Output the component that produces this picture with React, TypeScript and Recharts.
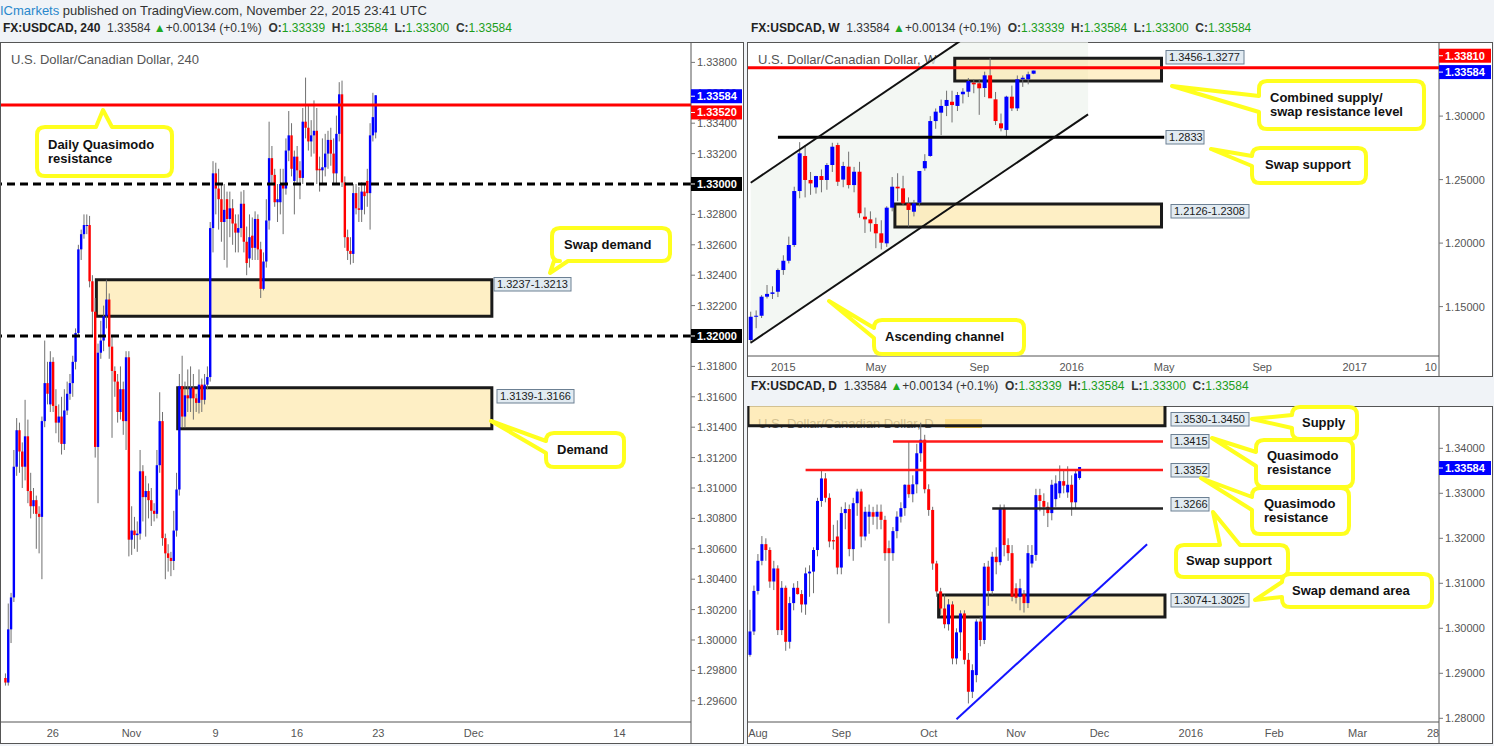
import React from 'react'
import { ComposedChart, Bar, Line, Area, XAxis, YAxis, ReferenceLine, ReferenceArea } from 'recharts'

// ---------- 4h panel data: [open, high, low, close] ----------
const h4Candles = [
  [1.2975, 1.2978, 1.2970, 1.2972], [1.2972, 1.3024, 1.2970, 1.3007], [1.3007, 1.3031, 1.2998, 1.3028],
  [1.3028, 1.3125, 1.3025, 1.3114], [1.3114, 1.3146, 1.3108, 1.3138], [1.3138, 1.3143, 1.3110, 1.3124],
  [1.3124, 1.3130, 1.3100, 1.3114], [1.3114, 1.3158, 1.3105, 1.3134], [1.3134, 1.3145, 1.3090, 1.3098],
  [1.3098, 1.3110, 1.3080, 1.3088], [1.3088, 1.3100, 1.3083, 1.3092], [1.3092, 1.3095, 1.3060, 1.3083],
  [1.3083, 1.3088, 1.3057, 1.3081], [1.3081, 1.3147, 1.3040, 1.3144], [1.3144, 1.3197, 1.3140, 1.3169],
  [1.3169, 1.3183, 1.3155, 1.3162], [1.3155, 1.3190, 1.3150, 1.3183], [1.3183, 1.3186, 1.3150, 1.3154],
  [1.3154, 1.3165, 1.3136, 1.3143], [1.3143, 1.3155, 1.3130, 1.3147], [1.3147, 1.3160, 1.3122, 1.3129],
  [1.3129, 1.3165, 1.3125, 1.3151], [1.3151, 1.3170, 1.3148, 1.3162], [1.3162, 1.3175, 1.3158, 1.3169],
  [1.3169, 1.3187, 1.3160, 1.3183], [1.3183, 1.3205, 1.3178, 1.3202], [1.3202, 1.3260, 1.3200, 1.3257],
  [1.3257, 1.3270, 1.3250, 1.3267], [1.3267, 1.3280, 1.3264, 1.3273], [1.3273, 1.3280, 1.3267, 1.3273],
  [1.3273, 1.3279, 1.3232, 1.3236], [1.3236, 1.3240, 1.3200, 1.3216], [1.3216, 1.3225, 1.3120, 1.3127],
  [1.3127, 1.3195, 1.3090, 1.3189], [1.3189, 1.3210, 1.3185, 1.3197], [1.3197, 1.3220, 1.3190, 1.3213],
  [1.3213, 1.3237, 1.3205, 1.3224], [1.3224, 1.3228, 1.3185, 1.3193], [1.3193, 1.3200, 1.3133, 1.3177],
  [1.3177, 1.3180, 1.3160, 1.3170], [1.3170, 1.3175, 1.3143, 1.3150], [1.3150, 1.3180, 1.3145, 1.3165],
  [1.3165, 1.3170, 1.3135, 1.3144], [1.3144, 1.3190, 1.3125, 1.3186], [1.3186, 1.3190, 1.3055, 1.3066],
  [1.3066, 1.3088, 1.3056, 1.3072], [1.3072, 1.3081, 1.3060, 1.3069], [1.3069, 1.3078, 1.3058, 1.3070],
  [1.3070, 1.3125, 1.3066, 1.3111], [1.3111, 1.3115, 1.3078, 1.3094], [1.3094, 1.3108, 1.3068, 1.3098],
  [1.3098, 1.3103, 1.3080, 1.3092], [1.3092, 1.3100, 1.3075, 1.3085], [1.3085, 1.3090, 1.3078, 1.3083],
  [1.3083, 1.3125, 1.3080, 1.3115], [1.3115, 1.3163, 1.3110, 1.3144], [1.3144, 1.3150, 1.3062, 1.3067],
  [1.3067, 1.3070, 1.3040, 1.3057], [1.3057, 1.3063, 1.3045, 1.3054], [1.3054, 1.3058, 1.3042, 1.3052],
  [1.3052, 1.3085, 1.3046, 1.3072], [1.3072, 1.3110, 1.3068, 1.3099], [1.3099, 1.3175, 1.3095, 1.3167],
  [1.3167, 1.3187, 1.3140, 1.3147], [1.3147, 1.3170, 1.3140, 1.3161], [1.3161, 1.3178, 1.3150, 1.3159],
  [1.3159, 1.3180, 1.3150, 1.3166], [1.3166, 1.3175, 1.3145, 1.3159], [1.3159, 1.3162, 1.3150, 1.3156],
  [1.3156, 1.3178, 1.3149, 1.3168], [1.3168, 1.3172, 1.3150, 1.3158], [1.3158, 1.3175, 1.3155, 1.3168],
  [1.3168, 1.3180, 1.3165, 1.3173], [1.3173, 1.3275, 1.3170, 1.3271], [1.3271, 1.3315, 1.3255, 1.3307],
  [1.3307, 1.3314, 1.3280, 1.3297], [1.3297, 1.3310, 1.3270, 1.3290], [1.3290, 1.3300, 1.3262, 1.3275],
  [1.3275, 1.3300, 1.3250, 1.3283], [1.3290, 1.3295, 1.3245, 1.3277], [1.3277, 1.3295, 1.3265, 1.3284],
  [1.3284, 1.3290, 1.3260, 1.3274], [1.3274, 1.3280, 1.3255, 1.3268], [1.3268, 1.3280, 1.3255, 1.3271],
  [1.3271, 1.3295, 1.3265, 1.3287], [1.3287, 1.3296, 1.3255, 1.3262], [1.3262, 1.3272, 1.3240, 1.3248],
  [1.3251, 1.3280, 1.3245, 1.3265], [1.3266, 1.3278, 1.3250, 1.3258], [1.3258, 1.3282, 1.3250, 1.3277],
  [1.3277, 1.3280, 1.3250, 1.3257], [1.3257, 1.3262, 1.3225, 1.3231], [1.3231, 1.3255, 1.3230, 1.3249],
  [1.3249, 1.3290, 1.3245, 1.3276], [1.3276, 1.3341, 1.3270, 1.3317], [1.3317, 1.3325, 1.3300, 1.3306],
  [1.3306, 1.3310, 1.3285, 1.3288], [1.3288, 1.3300, 1.3275, 1.3290], [1.3288, 1.3310, 1.3280, 1.3300],
  [1.3300, 1.3310, 1.3267, 1.3297], [1.3297, 1.3330, 1.3293, 1.3322], [1.3322, 1.3348, 1.3315, 1.3332],
  [1.3332, 1.3340, 1.3305, 1.3310], [1.3302, 1.3322, 1.3280, 1.3318], [1.3318, 1.3325, 1.3300, 1.3309],
  [1.3309, 1.3315, 1.3290, 1.3304], [1.3304, 1.3350, 1.3300, 1.3341], [1.3341, 1.3370, 1.3330, 1.3337],
  [1.3337, 1.3352, 1.3322, 1.3328], [1.3328, 1.3342, 1.3318, 1.3332], [1.3332, 1.3355, 1.3320, 1.3335],
  [1.3335, 1.3350, 1.3300, 1.3309], [1.3310, 1.3318, 1.3295, 1.3309], [1.3309, 1.3330, 1.3300, 1.3311],
  [1.3311, 1.3333, 1.3305, 1.3320], [1.3320, 1.3335, 1.3310, 1.3329], [1.3329, 1.3337, 1.3312, 1.3320],
  [1.3320, 1.3330, 1.3300, 1.3307], [1.3307, 1.3345, 1.3300, 1.3333], [1.3333, 1.3367, 1.3328, 1.3359],
  [1.3359, 1.3368, 1.3298, 1.3301], [1.3301, 1.3305, 1.3258, 1.3265], [1.3265, 1.3270, 1.3250, 1.3256],
  [1.3256, 1.3265, 1.3247, 1.3254], [1.3254, 1.3300, 1.3248, 1.3294], [1.3294, 1.3300, 1.3280, 1.3284],
  [1.3284, 1.3298, 1.3275, 1.3283], [1.3283, 1.3301, 1.3275, 1.3295], [1.3295, 1.3300, 1.3280, 1.3292],
  [1.3302, 1.3310, 1.3285, 1.3294], [1.3294, 1.3340, 1.3270, 1.3332], [1.3332, 1.3360, 1.3328, 1.3344],
  [1.33339, 1.33584, 1.33300, 1.33584],
]
const h4TickSlots = [18, 46, 76, 105, 134, 168, 220]
const h4TickLabels = ['26', 'Nov', '9', '16', '23', 'Dec', '14']
const h4PriceTicks = [1.296, 1.298, 1.300, 1.302, 1.304, 1.306, 1.308, 1.310, 1.312, 1.314, 1.316, 1.318,
  1.322, 1.324, 1.326, 1.328, 1.332, 1.334, 1.336, 1.338]
const h4Quasimodo = 1.3352
const h4RoundUpper = 1.33
const h4RoundLower = 1.32
const h4SwapDemand = [1.3213, 1.3237]
const h4Demand = [1.3139, 1.3166]
const lastPrice = 1.33584

// ---------- weekly panel data ----------
const wkCandles = [
  [1.1237, 1.1460, 1.1210, 1.1420], [1.1420, 1.1470, 1.1330, 1.1428], [1.1428, 1.1590, 1.1410, 1.1578],
  [1.1578, 1.1670, 1.1564, 1.1600], [1.1600, 1.1660, 1.1560, 1.1612], [1.1617, 1.1800, 1.1575, 1.1788],
  [1.1788, 1.1904, 1.1750, 1.1861], [1.1861, 1.2051, 1.1840, 1.1985], [1.1985, 1.2444, 1.1970, 1.2410],
  [1.2410, 1.2795, 1.2353, 1.2707], [1.2686, 1.2772, 1.2360, 1.2497], [1.2497, 1.2560, 1.2380, 1.2470],
  [1.2439, 1.2530, 1.2390, 1.2528], [1.2528, 1.2580, 1.2400, 1.2497], [1.2497, 1.2630, 1.2420, 1.2615],
  [1.2615, 1.2790, 1.2560, 1.2759], [1.2772, 1.2790, 1.2450, 1.2483], [1.2500, 1.2640, 1.2440, 1.2607],
  [1.2602, 1.2720, 1.2430, 1.2457], [1.2457, 1.2600, 1.2400, 1.2562], [1.2562, 1.2640, 1.2200, 1.2235],
  [1.2208, 1.2280, 1.2080, 1.2187], [1.2187, 1.2250, 1.2090, 1.2156], [1.2150, 1.2200, 1.1960, 1.2077],
  [1.2077, 1.2180, 1.1950, 1.2003], [1.1998, 1.2290, 1.1970, 1.2279], [1.2279, 1.2520, 1.2250, 1.2444],
  [1.2444, 1.2550, 1.2330, 1.2431], [1.2431, 1.2530, 1.2300, 1.2313], [1.2313, 1.2360, 1.2130, 1.2261],
  [1.2247, 1.2340, 1.2210, 1.2313], [1.2318, 1.2560, 1.2290, 1.2568], [1.2589, 1.2700, 1.2570, 1.2646],
  [1.2686, 1.3000, 1.2680, 1.2961], [1.2961, 1.3060, 1.2900, 1.3035], [1.3027, 1.3130, 1.2850, 1.3080],
  [1.3080, 1.3200, 1.3000, 1.3127], [1.3113, 1.3200, 1.2950, 1.3087], [1.3080, 1.3190, 1.3040, 1.3166],
  [1.3172, 1.3220, 1.3100, 1.3192], [1.3192, 1.3300, 1.3150, 1.3276], [1.3263, 1.3290, 1.3180, 1.3250],
  [1.3258, 1.3290, 1.3010, 1.3219], [1.3221, 1.3350, 1.3150, 1.3321], [1.3321, 1.3457, 1.3200, 1.3140],
  [1.3132, 1.3190, 1.2930, 1.2961], [1.2943, 1.3020, 1.2880, 1.2904], [1.2891, 1.3160, 1.2833, 1.3153],
  [1.3153, 1.3240, 1.3040, 1.3061], [1.3061, 1.3320, 1.3040, 1.3290], [1.3290, 1.3320, 1.3230, 1.3302],
  [1.3290, 1.3350, 1.3250, 1.3329], [1.33339, 1.33584, 1.33300, 1.33584],
]
const wkTickSlots = [6, 23, 42, 59, 76, 94, 111, 125]
const wkTickLabels = ['2015', 'May', 'Sep', '2016', 'May', 'Sep', '2017', '10']
const wkPriceTicks = [1.15, 1.2, 1.25, 1.3]
const wkResistance = 1.3381
const wkSupply = [1.3277, 1.3456]
const wkDemand = [1.2126, 1.2308]
const wkSwapSupport = 1.2833
const wkChannelSlots = [0, 62]
const wkChannelUpper = [1.2475, 1.4273]
const wkChannelLower = [1.1215, 1.3013]

// ---------- daily panel data ----------
const dCandles = [
  [1.2941, 1.3041, 1.2937, 1.2993], [1.2993, 1.3095, 1.2985, 1.3083], [1.3083, 1.3165, 1.3075, 1.3150],
  [1.3150, 1.3205, 1.3140, 1.3187], [1.3187, 1.3200, 1.3150, 1.3174], [1.3174, 1.3180, 1.3090, 1.3104],
  [1.3104, 1.3150, 1.3085, 1.3133], [1.3133, 1.3140, 1.2985, 1.2996], [1.2996, 1.3105, 1.2985, 1.3090],
  [1.3090, 1.3095, 1.2950, 1.2970], [1.2970, 1.3070, 1.2955, 1.3056], [1.3056, 1.3100, 1.3040, 1.3090],
  [1.3090, 1.3105, 1.3075, 1.3076], [1.3076, 1.3085, 1.3035, 1.3053], [1.3053, 1.3135, 1.3030, 1.3122],
  [1.3122, 1.3140, 1.3070, 1.3126], [1.3126, 1.3180, 1.3078, 1.3174], [1.3174, 1.3290, 1.3160, 1.3283],
  [1.3283, 1.3352, 1.3270, 1.3333], [1.3333, 1.3345, 1.3280, 1.3290], [1.3290, 1.3300, 1.3180, 1.3193],
  [1.3196, 1.3230, 1.3175, 1.3193], [1.3204, 1.3240, 1.3120, 1.3135], [1.3135, 1.3270, 1.3120, 1.3256],
  [1.3256, 1.3280, 1.3220, 1.3265], [1.3265, 1.3275, 1.3160, 1.3176], [1.3176, 1.3290, 1.3150, 1.3278],
  [1.3278, 1.3310, 1.3250, 1.3304], [1.3304, 1.3310, 1.3180, 1.3204], [1.3204, 1.3270, 1.3195, 1.3259],
  [1.3248, 1.3275, 1.3210, 1.3259], [1.3258, 1.3270, 1.3230, 1.3248], [1.3248, 1.3275, 1.3220, 1.3259],
  [1.3259, 1.3275, 1.3220, 1.3241], [1.3241, 1.3250, 1.3150, 1.3167], [1.3178, 1.3195, 1.3011, 1.3167],
  [1.3167, 1.3225, 1.3150, 1.3216], [1.3216, 1.3260, 1.3200, 1.3248], [1.3248, 1.3280, 1.3235, 1.3267],
  [1.3267, 1.3320, 1.3250, 1.3319], [1.3319, 1.3415, 1.3290, 1.3298], [1.3298, 1.3340, 1.3280, 1.3320],
  [1.3320, 1.3410, 1.3300, 1.3389], [1.3389, 1.3457, 1.3370, 1.3419], [1.3419, 1.3430, 1.3300, 1.3309],
  [1.3309, 1.3320, 1.3250, 1.3263], [1.3263, 1.3270, 1.3130, 1.3144], [1.3144, 1.3150, 1.3070, 1.3082],
  [1.3082, 1.3090, 1.3030, 1.3044], [1.3044, 1.3075, 1.3000, 1.3009], [1.3009, 1.3065, 1.2995, 1.3053],
  [1.3053, 1.3060, 1.2920, 1.2933], [1.2933, 1.3000, 1.2920, 1.2991], [1.2991, 1.3040, 1.2950, 1.3033],
  [1.3033, 1.3040, 1.2920, 1.2930], [1.2930, 1.2945, 1.2833, 1.2859], [1.2859, 1.2920, 1.2845, 1.2907],
  [1.2896, 1.3020, 1.2880, 1.3015], [1.3015, 1.3025, 1.2960, 1.2974], [1.2974, 1.3145, 1.2965, 1.3137],
  [1.3137, 1.3150, 1.3050, 1.3083], [1.3083, 1.3170, 1.3075, 1.3159], [1.3159, 1.3180, 1.3120, 1.3147],
  [1.3147, 1.3275, 1.3140, 1.3265], [1.3265, 1.3275, 1.3160, 1.3185], [1.3185, 1.3200, 1.3150, 1.3167],
  [1.3167, 1.3185, 1.3060, 1.3070], [1.3089, 1.3100, 1.3055, 1.3068], [1.3070, 1.3110, 1.3040, 1.3089],
  [1.3076, 1.3085, 1.3035, 1.3056], [1.3056, 1.3185, 1.3045, 1.3167], [1.3144, 1.3185, 1.3135, 1.3163],
  [1.3163, 1.3310, 1.3150, 1.3296], [1.3296, 1.3310, 1.3260, 1.3283], [1.3283, 1.3300, 1.3250, 1.3270],
  [1.3270, 1.3280, 1.3225, 1.3256], [1.3256, 1.3330, 1.3240, 1.3319], [1.3287, 1.3340, 1.3270, 1.3322],
  [1.3300, 1.3362, 1.3290, 1.3327], [1.3327, 1.3350, 1.3300, 1.3317], [1.3302, 1.3360, 1.3290, 1.3319],
  [1.3319, 1.3340, 1.3250, 1.3280], [1.3280, 1.3350, 1.3265, 1.3344], [1.33339, 1.33584, 1.33300, 1.33584],
]
const dTickSlots = [2, 23, 45, 67, 88, 111, 132, 153, 172]
const dTickLabels = ['Aug', 'Sep', 'Oct', 'Nov', 'Dec', '2016', 'Feb', 'Mar', '28']
const dPriceTicks = [1.28, 1.29, 1.30, 1.31, 1.32, 1.33, 1.34]
const dSupply = [1.345, 1.353]
const dSwapDemand = [1.3025, 1.3074]
const dQuasimodoUpper = 1.3415
const dQuasimodoLower = 1.3352
const dSwapSupport = 1.3266
const dTrendSlots = [52, 100]
const dTrendValues = [1.2798, 1.3187]

const FONT = '"Liberation Sans", Arial, sans-serif'
const ZONE_FILL = '#fde6a6'

function buildRows(candles: number[][], offset: number, slots: number) {
  const rows: any[] = []
  for (let i = 0; i < slots; i++) {
    const c = candles[i - offset]
    rows.push(c ? { i, o: c[0], h: c[1], l: c[2], c: c[3] } : { i })
  }
  return rows
}

const candleRange = (d: any) => (d.h == null ? null : [d.l, d.h])

const makeCandle = (bodyW: number) => (props: any) => {
  const { x, y, width, height, payload } = props
  if (!payload || payload.h == null || !isFinite(y)) return <g />
  const { o, h, l, c } = payload
  const span = h - l
  const toY = (v: number) => (span > 0 ? y + ((h - v) / span) * height : y)
  const cx = x + width / 2
  const top = toY(Math.max(o, c))
  const bh = Math.max(1, toY(Math.min(o, c)) - top)
  return (
    <g>
      <line x1={cx} x2={cx} y1={y} y2={y + height} stroke="#707070" strokeWidth={1} />
      <rect x={cx - bodyW / 2} y={top} width={bodyW} height={bh} fill={c >= o ? '#0000ff' : '#ff0000'} />
    </g>
  )
}

type Tag = { v: number; color: string; dy: number }

const makeYTick = (axisW: number, tags: Tag[]) => (props: any) => {
  const { x, y, payload } = props
  const v = payload.value as number
  const tag = tags.find((t) => Math.abs(t.v - v) < 1e-7)
  if (tag) {
    const cy = y + tag.dy
    return (
      <g>
        <rect x={x} y={cy - 7} width={axisW - 1} height={14} fill={tag.color} />
        <line x1={x} x2={x + 4} y1={cy} y2={cy} stroke="#fff" />
        <text x={x + 6} y={cy + 4} fill="#fff" fontSize={11} fontWeight="bold" fontFamily={FONT}>{v.toFixed(5)}</text>
      </g>
    )
  }
  return (
    <g>
      <line x1={x} x2={x + 4} y1={y} y2={y} stroke="#777" />
      <text x={x + 6} y={y + 4} fill="#555" fontSize={11} fontFamily={FONT}>{v.toFixed(5)}</text>
    </g>
  )
}

const makeXTick = (slots: number[], labels: string[]) => (props: any) => {
  const { x, y, payload } = props
  const k = slots.indexOf(payload.value)
  if (k < 0) return <g />
  return (
    <text x={x} y={y + 15} textAnchor="middle" fill="#555" fontSize={11} fontFamily={FONT}>{labels[k]}</text>
  )
}

function axes(slots: number[], labels: string[], xH: number, yW: number, domain: number[], ticks: number[], tags: Tag[]) {
  return [
    <XAxis key="x" dataKey="i" type="category" interval={0} tick={makeXTick(slots, labels)} tickLine={false}
      tickSize={0} tickMargin={0} height={xH} axisLine={{ stroke: '#555' }} />,
    <YAxis key="y" orientation="right" type="number" domain={domain} allowDataOverflow
      ticks={[...ticks, ...tags.map((t) => t.v)]} interval={0} tick={makeYTick(yW, tags)} tickLine={false}
      tickSize={0} tickMargin={0} width={yW} axisLine={{ stroke: '#555' }} />,
  ]
}

function H4Chart() {
  const rows = buildRows(h4Candles, 1, 246)
  const tags: Tag[] = [
    { v: h4RoundUpper, color: '#000', dy: 0 },
    { v: h4RoundLower, color: '#000', dy: 0 },
    { v: h4Quasimodo, color: '#ff0000', dy: 7.5 },
    { v: lastPrice, color: '#0000ff', dy: 1 },
  ]
  return (
    <ComposedChart width={742} height={701} data={rows} margin={{ top: 0, right: 0, bottom: 0, left: 0 }} barCategoryGap="5%">
      {axes(h4TickSlots, h4TickLabels, 21, 52, [1.294605, 1.339342], h4PriceTicks, tags)}
      <ReferenceLine y={h4Quasimodo} stroke="#ff0000" strokeWidth={3} />
      <ReferenceLine y={h4RoundUpper} stroke="#000" strokeWidth={3} strokeDasharray="8 5" />
      <ReferenceLine y={h4RoundLower} stroke="#000" strokeWidth={3} strokeDasharray="8 5" />
      <ReferenceArea x1={34} x2={174} y1={h4SwapDemand[0]} y2={h4SwapDemand[1]} fill={ZONE_FILL} fillOpacity={0.65}
        stroke="#1a1a1a" strokeWidth={3} ifOverflow="hidden" />
      <ReferenceArea x1={63} x2={174} y1={h4Demand[0]} y2={h4Demand[1]} fill={ZONE_FILL} fillOpacity={0.65}
        stroke="#1a1a1a" strokeWidth={3} ifOverflow="hidden" />
      <Bar dataKey={candleRange} shape={makeCandle(2.4)} isAnimationActive={false} />
    </ComposedChart>
  )
}

function WeeklyChart() {
  const rows = buildRows(wkCandles, 0, 127)
  wkChannelSlots.forEach((s, k) => {
    rows[s].chUp = wkChannelUpper[k]
    rows[s].chLo = wkChannelLower[k]
  })
  const tags: Tag[] = [
    { v: wkResistance, color: '#ff0000', dy: -12 },
    { v: lastPrice, color: '#0000ff', dy: 1.5 },
  ]
  return (
    <ComposedChart width={744} height={334} data={rows} margin={{ top: 0, right: 0, bottom: 0, left: 0 }} barCategoryGap="13%">
      {axes(wkTickSlots, wkTickLabels, 20, 53, [1.111102, 1.358346], wkPriceTicks, tags)}
      <Area dataKey={(d: any) => (d.chLo == null ? null : [d.chLo, d.chUp])} type="linear" connectNulls
        fill="#eef3ee" fillOpacity={0.7} stroke="none" dot={false} activeDot={false} isAnimationActive={false} />
      <ReferenceLine y={wkResistance} stroke="#ff0000" strokeWidth={3} />
      <ReferenceArea x1={38} x2={75} y1={wkSupply[0]} y2={wkSupply[1]} fill={ZONE_FILL} fillOpacity={0.6}
        stroke="#1a1a1a" strokeWidth={3} ifOverflow="hidden" />
      <ReferenceArea x1={27} x2={75} y1={wkDemand[0]} y2={wkDemand[1]} fill={ZONE_FILL} fillOpacity={0.65}
        stroke="#1a1a1a" strokeWidth={3} ifOverflow="hidden" />
      <ReferenceLine segment={[{ x: 5, y: wkSwapSupport }, { x: 76, y: wkSwapSupport }]} stroke="#000" strokeWidth={3} />
      <Line dataKey="chUp" stroke="#111" strokeWidth={2} dot={false} activeDot={false} connectNulls isAnimationActive={false} />
      <Line dataKey="chLo" stroke="#111" strokeWidth={2} dot={false} activeDot={false} connectNulls isAnimationActive={false} />
      <Bar dataKey={candleRange} shape={makeCandle(4)} isAnimationActive={false} />
    </ComposedChart>
  )
}

function DailyChart() {
  const rows = buildRows(dCandles, 0, 174)
  dTrendSlots.forEach((s, k) => {
    rows[s].trend = dTrendValues[k]
  })
  const tags: Tag[] = [{ v: lastPrice, color: '#0000ff', dy: 1 }]
  return (
    <ComposedChart width={744} height={337} data={rows} margin={{ top: 0, right: 0, bottom: 0, left: 0 }} barCategoryGap="12%">
      {axes(dTickSlots, dTickLabels, 21, 53, [1.279178, 1.3494], dPriceTicks, tags)}
      <ReferenceArea x1={0} x2={104} y1={dSupply[0]} y2={dSupply[1]} fill={ZONE_FILL} fillOpacity={0.75}
        stroke="#1a1a1a" strokeWidth={3} ifOverflow="hidden" />
      <ReferenceArea x1={48} x2={104} y1={dSwapDemand[0]} y2={dSwapDemand[1]} fill={ZONE_FILL} fillOpacity={0.65}
        stroke="#1a1a1a" strokeWidth={3} ifOverflow="hidden" />
      <ReferenceLine segment={[{ x: 36, y: dQuasimodoUpper }, { x: 104, y: dQuasimodoUpper }]} stroke="#ff1a1a" strokeWidth={2.5} />
      <ReferenceLine segment={[{ x: 14, y: dQuasimodoLower }, { x: 104, y: dQuasimodoLower }]} stroke="#ff1a1a" strokeWidth={2.5} />
      <ReferenceLine segment={[{ x: 61, y: dSwapSupport }, { x: 104, y: dSwapSupport }]} stroke="#222" strokeWidth={2.5} />
      <Line dataKey="trend" stroke="#1414ff" strokeWidth={2} dot={false} activeDot={false} connectNulls isAnimationActive={false} />
      <Bar dataKey={candleRange} shape={makeCandle(3)} isAnimationActive={false} />
    </ComposedChart>
  )
}

type Bub = { x: number; y: number; w: number; h: number; side: string; b1: number; b2: number; px: number; py: number; tx: number; lines: string[]; base: number[] }

const bubbles: Bub[] = [
  { x: 37, y: 127, w: 135, h: 49, side: 'top', b1: 96, b2: 112, px: 103, py: 110, tx: 48, lines: ['Daily Quasimodo', 'resistance'], base: [149, 163] },
  { x: 552, y: 228, w: 118, h: 33, side: 'bottom', b1: 554, b2: 568, px: 550, py: 273, tx: 564, lines: ['Swap demand'], base: [249] },
  { x: 546, y: 433, w: 78, h: 34, side: 'left', b1: 441, b2: 453, px: 491, py: 421, tx: 557, lines: ['Demand'], base: [454] },
  { x: 1259, y: 81, w: 165, h: 48, side: 'left', b1: 96, b2: 112, px: 1172, py: 86, tx: 1270, lines: ['Combined supply/', 'swap resistance level'], base: [102, 116] },
  { x: 1252, y: 148, w: 114, h: 35, side: 'left', b1: 156, b2: 166, px: 1211, py: 149, tx: 1265, lines: ['Swap support'], base: [169] },
  { x: 874, y: 320, w: 150, h: 34, side: 'left', b1: 328, b2: 338, px: 829, py: 301, tx: 885, lines: ['Ascending channel'], base: [341] },
  { x: 1292, y: 407, w: 65, h: 32, side: 'left', b1: 415, b2: 428, px: 1252, py: 419, tx: 1302, lines: ['Supply'], base: [427] },
  { x: 1256, y: 440, w: 97, h: 47, side: 'left', b1: 452, b2: 466, px: 1212, py: 438, tx: 1267, lines: ['Quasimodo', 'resistance'], base: [460, 474] },
  { x: 1252, y: 488, w: 97, h: 46, side: 'left', b1: 497, b2: 510, px: 1201, py: 478, tx: 1264, lines: ['Quasimodo', 'resistance'], base: [508, 522] },
  { x: 1176, y: 545, w: 112, h: 32, side: 'top', b1: 1220, b2: 1240, px: 1213, py: 512, tx: 1186, lines: ['Swap support'], base: [565] },
  { x: 1282, y: 574, w: 150, h: 33, side: 'left', b1: 582, b2: 597, px: 1255, py: 600, tx: 1292, lines: ['Swap demand area'], base: [595] },
]

function bubblePath(b: Bub) {
  const r = 8
  const { x, y, w, h } = b
  let d = `M ${x + r} ${y}`
  if (b.side === 'top') d += ` L ${b.b1} ${y} L ${b.px} ${b.py} L ${b.b2} ${y}`
  d += ` L ${x + w - r} ${y} Q ${x + w} ${y} ${x + w} ${y + r} L ${x + w} ${y + h - r} Q ${x + w} ${y + h} ${x + w - r} ${y + h}`
  if (b.side === 'bottom') d += ` L ${b.b2} ${y + h} L ${b.px} ${b.py} L ${b.b1} ${y + h}`
  d += ` L ${x + r} ${y + h} Q ${x} ${y + h} ${x} ${y + h - r}`
  if (b.side === 'left') d += ` L ${x} ${b.b2} L ${b.px} ${b.py} L ${x} ${b.b1}`
  d += ` L ${x} ${y + r} Q ${x} ${y} ${x + r} ${y} Z`
  return d
}

const rangeLabels = [
  { x: 494, y: 277.5, w: 77, text: '1.3237-1.3213' },
  { x: 497, y: 389.5, w: 77, text: '1.3139-1.3166' },
  { x: 1166, y: 50.5, w: 78, text: '1.3456-1.3277' },
  { x: 1166, y: 130.5, w: 38, text: '1.2833' },
  { x: 1171, y: 204.5, w: 78, text: '1.2126-1.2308' },
  { x: 1171, y: 412.5, w: 78, text: '1.3530-1.3450' },
  { x: 1171, y: 434.5, w: 38, text: '1.3415' },
  { x: 1171, y: 463.5, w: 38, text: '1.3352' },
  { x: 1171, y: 497.5, w: 38, text: '1.3266' },
  { x: 1171, y: 593.5, w: 78, text: '1.3074-1.3025' },
]

function Legend({ x, y, tf }: { x: number; y: number; tf: string }) {
  const g = '#1b9e1b'
  return (
    <text x={x} y={y} fontSize={12} fontFamily={FONT} fill="#333" style={{ whiteSpace: 'pre' }}>
      <tspan fontWeight="bold" fill="#222">{`FX:USDCAD, ${tf}`}</tspan>
      <tspan>{'  1.33584 '}</tspan>
      <tspan fill="#22aa22">▲</tspan>
      <tspan>{'+0.00134 (+0.1%)  '}</tspan>
      <tspan fontWeight="bold">O:</tspan><tspan fill={g}>1.33339</tspan>
      <tspan fontWeight="bold">{'  H:'}</tspan><tspan fill={g}>1.33584</tspan>
      <tspan fontWeight="bold">{'  L:'}</tspan><tspan fill={g}>1.33300</tspan>
      <tspan fontWeight="bold">{'  C:'}</tspan><tspan fill={g}>1.33584</tspan>
    </text>
  )
}

const abs = (left: number, top: number, width: number, height: number, extra: any = {}) => ({
  position: 'absolute' as const, left, top, width, height, boxSizing: 'border-box' as const, ...extra,
})

export default function App() {
  return (
    <div style={{ position: 'relative', width: 1494, height: 746, background: '#f0f3f7', overflow: 'hidden', fontFamily: FONT }}>
      <style>{'body{margin:0;background:#f0f3f7}'}</style>
      <div style={abs(0, 42, 744, 702, { background: '#fff', border: '1px solid #555' })} />
      <div style={abs(747, 42, 746, 335, { background: '#fff', border: '1px solid #555' })} />
      <div style={abs(747, 406, 746, 338, { background: '#fff', border: '1px solid #555' })} />
      <svg style={abs(0, 0, 1494, 746)} width={1494} height={746}>
        <text x={11} y={64} fontSize={13} fill="#555" fontFamily={FONT}>U.S. Dollar/Canadian Dollar, 240</text>
        <text x={758} y={64} fontSize={13} fill="#555" fontFamily={FONT}>U.S. Dollar/Canadian Dollar, W</text>
        <text x={758} y={428} fontSize={13} fill="#555" fontFamily={FONT}>U.S. Dollar/Canadian Dollar, D</text>
        <rect x={945} y={419} width={37} height={9} fill="#f2c84b" />
      </svg>
      <div style={abs(1, 42, 742, 701)}><H4Chart /></div>
      <div style={abs(748, 42, 744, 334)}><WeeklyChart /></div>
      <div style={abs(748, 406, 744, 337)}><DailyChart /></div>
      <svg style={abs(0, 0, 1494, 746, { pointerEvents: 'none' })} width={1494} height={746}>
        <text x={0} y={15} fontSize={13} fontFamily={FONT} fill="#333">
          <tspan fill="#2a88cc">ICmarkets</tspan>
          <tspan>{' published on TradingView.com, November 22, 2015 23:41 UTC'}</tspan>
        </text>
        <Legend x={3} y={32} tf="240" />
        <Legend x={751} y={32} tf="W" />
        <Legend x={751} y={390} tf="D" />
        {/* axis corner boxes */}
        <rect x={692} y={723} width={50} height={20} fill="#fff" />
        <line x1={691} x2={691} y1={722} y2={743} stroke="#555" />
        <rect x={1440} y={357} width={51} height={18} fill="#fff" />
        <line x1={1439} x2={1439} y1={356} y2={376} stroke="#555" />
        <rect x={1440} y={723} width={51} height={20} fill="#fff" />
        <line x1={1439} x2={1439} y1={722} y2={743} stroke="#555" />
        {rangeLabels.map((r, k) => (
          <g key={k}>
            <rect x={r.x} y={r.y} width={r.w} height={13.5} fill="#e2ebf2" stroke="#6c8093" strokeWidth={1} />
            <text x={r.x + 3} y={r.y + 10.5} fontSize={11} fill="#1b1b1b" fontFamily={FONT}>{r.text}</text>
          </g>
        ))}
        {bubbles.map((b, k) => (
          <g key={k}>
            <path d={bubblePath(b)} fill="#fff" stroke="#ffff1e" strokeWidth={4} strokeLinejoin="round" />
            {b.lines.map((t, j) => (
              <text key={j} x={b.tx} y={b.base[j]} fontSize={13} fontWeight="bold" fill="#111" fontFamily={FONT}>{t}</text>
            ))}
          </g>
        ))}
      </svg>
    </div>
  )
}
